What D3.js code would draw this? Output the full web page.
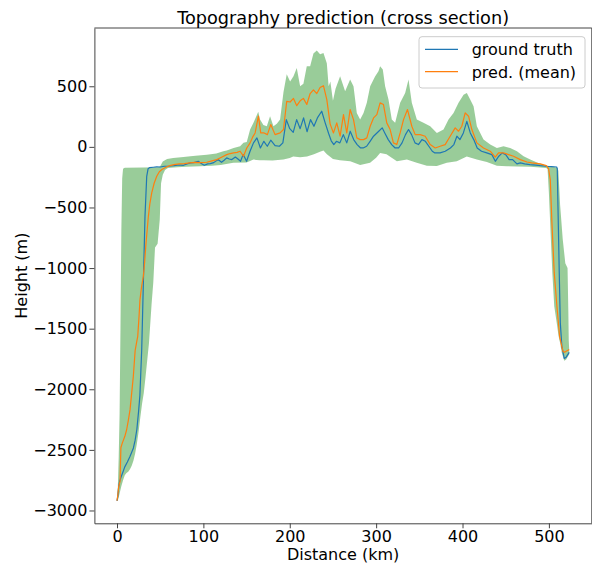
<!DOCTYPE html>
<html>
<head>
<meta charset="utf-8">
<script src="https://cdn.jsdelivr.net/npm/d3@7/dist/d3.min.js"></script>
<style>
  body { margin: 0; background: #fff; }
  svg { display: block; font-family: "DejaVu Sans", sans-serif; }
</style>
</head>
<body>
<div id="chart"></div>
<script>
// values: distance (km) and height (m)
let truthKm = [0, 1, 2, 3, 5, 7, 9, 12, 15, 19, 21, 23, 25, 26.5, 28.6, 30.5, 32.4, 34.4, 36, 37.5,
    42, 46, 50, 55, 61, 66, 70, 74, 77, 81, 85, 89, 94, 98, 101, 105, 108, 112, 117, 121,
    124, 127, 130, 133, 137, 140, 143, 146, 148, 150, 154, 158, 162, 166, 170, 174, 178, 183, 188, 192,
    196, 200, 204, 208, 212, 216, 220, 224, 228, 232, 237, 241, 245, 248, 251, 254, 258, 262, 266, 270,
    274, 278, 282, 285, 289, 293, 297, 303, 307, 310, 314, 318, 322, 326, 330, 334, 337.5, 341, 345, 349,
    353, 357, 361, 365, 368, 374, 380, 386, 390, 393.5, 397, 401, 405, 409, 413, 417, 422, 428, 434, 438,
    442, 446, 450, 454, 458, 463, 467, 472, 478, 485, 490, 497, 503, 509, 509.7, 510.5, 512, 513.2, 515, 517.8,
    520, 523.5];
let truthM = [-2920, -2880, -2800, -2760, -2718, -2680, -2640, -2600, -2555, -2484, -2420, -2330, -2180, -2050, -1672, -1122, -573, -243, -180, -172,
    -168, -165, -166, -160, -158, -155, -150, -150, -152, -140, -132, -130, -119, -140, -152, -140, -138, -130, -105, -127,
    -110, -91, -100, -105, -84, -100, -119, -64, -90, -119, -36, 33, 74, -9, 46, 5, 55, 10, 5, 33,
    225, 150, 120, 225, 150, 239, 125, 225, 170, 239, 294, 198, 110, 50, 19, 46, 33, 101, 33, 129,
    60, 19, -9, -9, 5, 46, 88, 129, 157, 115, 60, 19, -9, -9, 33, 101, 143, 101, 33, 19,
    60, 46, 5, -36, -50, -50, -36, -9, 19, 88, 60, 115, 211, 115, 60, -9, -36, -50, -64, -119,
    -77, -50, -64, -105, -105, -140, -132, -140, -146, -150, -155, -160, -163, -166, -180, -490, -1040, -1450, -1645, -1745,
    -1735, -1695];

let predKm = [0, 1, 2, 3.5, 4.5, 6.2, 9, 11.2, 13, 15.1, 17, 18.9, 21, 23, 24, 25.5, 26.6, 28.5, 30.5, 32,
    33.6, 35, 36.3, 38, 40.2, 43, 46, 49, 52, 56, 61, 66, 72, 78, 84, 90, 96, 104, 110, 115.5,
    121, 127, 131, 135, 139, 142.5, 146.4, 150.2, 154.1, 157, 159.9, 163.7, 166.4, 170.3, 174.1, 178, 183, 188.8, 192.7, 196.5,
    200.4, 204.3, 208.1, 212, 215.8, 219.7, 223.6, 227.4, 231.3, 235.1, 239, 242.9, 246.7, 250.6, 254.4, 258.3, 262.2, 266, 269.9, 273.8,
    277.6, 281.5, 285.4, 289.2, 293.1, 297, 300.8, 304.6, 308.5, 312.3, 316.2, 320, 323.9, 327.8, 331.7, 336.3, 341.3, 345.2, 351, 356.8,
    362.6, 368.4, 374.1, 379.9, 385.7, 391.5, 395.4, 399.2, 403.1, 407, 410.8, 416.6, 424.3, 432.1, 437.9, 441.7, 447.5, 453.3, 459.1, 466.8,
    474.6, 480, 490, 497, 499.6, 501.6, 503.5, 506.2, 509.3, 512.4, 516.2, 518, 521.6, 523.5];
let predM = [-2920, -2870, -2800, -2760, -2480, -2442, -2390, -2332, -2260, -2168, -2030, -1893, -1680, -1600, -1563, -1400, -1260, -1150, -1068, -950,
    -792, -680, -573, -470, -380, -300, -243, -205, -187, -170, -155, -146, -140, -138, -132, -128, -130, -127, -115, -105,
    -85, -64, -55, -50, -45, -36, -77, -9, 33, 80, 115, 253, 115, 115, 101, 184, 101, 115, 143, 376,
    370, 400, 340, 380, 400, 350, 440, 470, 440, 490, 505, 390, 190, 115, 198, 88, 266, 115, 308, 225,
    74, 60, 60, 74, 170, 239, 266, 363, 349, 198, 143, 33, 19, 115, 225, 308, 170, 101, 101, 88,
    19, -9, 5, 19, 88, 157, 129, 170, 280, 253, 143, 33, -9, -36, -85, -50, -50, -64, -77, -105,
    -125, -132, -140, -155, -180, -270, -627, -1040, -1315, -1563, -1686, -1695, -1680, -1672];

let upperKm = [0, 1, 2, 3, 4, 5, 6, 7, 9, 30, 48, 50, 53, 58, 65, 77, 85, 94, 104, 115,
    123, 127, 135, 142.5, 146.4, 150.2, 154.1, 158, 161.8, 163.5, 165.6, 169.5, 173.4, 177.2, 181.1, 185, 188.8, 192.7, 196.5, 200.4,
    204.3, 208.1, 212, 215.8, 219.7, 223.6, 227.4, 231.3, 235.1, 239, 242.9, 245, 247, 250, 253, 258.3, 264.1, 269.9, 273.8, 277.6,
    281.5, 285.4, 289.2, 293.1, 298.9, 302.7, 304.6, 307.7, 310.4, 314.3, 318.1, 322, 327.8, 333.6, 337.5, 341.3, 347.1, 354.8, 362.6, 370.3,
    378, 383.8, 389.6, 395.4, 401.2, 405, 408.9, 412.8, 416.6, 424.3, 432.1, 439.8, 447.5, 455.2, 463, 470.7, 478.4, 485, 490, 495,
    500, 505, 510, 511, 513, 516, 519, 521.6, 522.5, 523, 523.5];
let upperM = [-2920, -2800, -2550, -2200, -1500, -700, -260, -180, -172, -170, -168, -160, -120, -100, -91, -84, -77, -72, -64, -55,
    -36, -30, -9, 5, 33, 40, 143, 200, 260, 290, 225, 180, 170, 253, 170, 190, 225, 450, 600, 540,
    583, 650, 500, 520, 665, 665, 770, 795, 765, 775, 690, 500, 540, 380, 480, 583, 459, 556, 500, 280,
    225, 280, 363, 500, 583, 624, 665, 638, 500, 390, 225, 198, 363, 445, 556, 363, 225, 198, 170, 115,
    143, 225, 280, 363, 431, 445, 390, 335, 170, 60, 19, -9, 5, -9, -36, -77, -105, -125, -140, -150,
    -158, -165, -175, -200, -480, -760, -960, -1000, -1350, -1600, -1670];

let lowerKm = [0, 1, 2, 3, 5, 7, 9, 11, 13, 15, 17, 19, 21, 23, 25, 27, 29, 31, 33, 35,
    37, 40, 42, 44, 47, 49.5, 51, 53, 55.6, 59, 62, 70, 80, 96, 110, 120, 134.7, 150, 158, 165,
    170, 180, 192.7, 200, 204, 212, 220, 228, 235, 239, 243, 250, 258, 270, 281.5, 293, 300, 304.6, 312, 324,
    335.6, 347, 358.7, 370.3, 381.8, 393.4, 404.9, 416.6, 428.2, 439.8, 451.4, 463, 478.4, 490, 497, 498.5, 500, 502.3, 504, 506.2,
    509, 511.2, 513, 515, 517.8, 520, 523.5];
let lowerM = [-2920, -2915, -2890, -2860, -2800, -2750, -2710, -2690, -2680, -2660, -2630, -2590, -2530, -2450, -2350, -2230, -2120, -2030, -1900, -1760,
    -1620, -1300, -1120, -830, -800, -600, -300, -230, -190, -175, -172, -168, -165, -160, -155, -150, -132, -128, -105, -110,
    -110, -112, -105, -91, -80, -85, -80, -60, -40, -30, -60, -100, -110, -119, -150, -132, -90, -50, -60, -119,
    -105, -132, -155, -158, -132, -119, -80, -105, -125, -155, -160, -162, -165, -170, -175, -185, -380, -765, -1040, -1315,
    -1450, -1560, -1620, -1700, -1765, -1755, -1710];

let xTicks = [0, 100, 200, 300, 400, 500];
let yTicks = [-3000, -2500, -2000, -1500, -1000, -500, 0, 500];
let seriesNames = ['ground truth', 'pred. (mean)'];
let seriesColors = ['#1f77b4', '#ff7f0e'];

let config = {
    svg: {width: 592, height: 567},
    plot: {left: 94.4, top: 28, right: 591.8, bottom: 523.3}
};

let svg = d3.select('#chart')
    .append('svg')
        .attr('width', config.svg.width)
        .attr('height', config.svg.height);

svg.append('rect')
    .attr('width', config.svg.width)
    .attr('height', config.svg.height)
    .attr('fill', '#fff');

// matplotlib style 5% margins around the data
let allKm = truthKm.concat(predKm, upperKm, lowerKm);
let allM = truthM.concat(predM, upperM, lowerM);
let kmExt = d3.extent(allKm), mExt = d3.extent(allM);
let kmPad = (kmExt[1] - kmExt[0]) * 0.05, mPad = (mExt[1] - mExt[0]) * 0.05;

let x = d3.scaleLinear()
    .domain([kmExt[0] - kmPad, kmExt[1] + kmPad])
    .range([config.plot.left, config.plot.right]);
let y = d3.scaleLinear()
    .domain([mExt[0] - mPad, mExt[1] + mPad])
    .range([config.plot.bottom, config.plot.top]);

let plot = svg.append('g').attr('id', 'plot');

// uncertainty band: upper edge forward, lower edge back
let bandPts = upperKm.map((d, i) => [d, upperM[i]])
    .concat(lowerKm.map((d, i) => [d, lowerM[i]]).reverse());
let line = d3.line().x((d) => x(d[0])).y((d) => y(d[1]));

plot.append('path')
    .attr('d', line(bandPts) + 'Z')
    .attr('fill', 'green')
    .attr('fill-opacity', 0.4)
    .attr('stroke', 'none');

let series = [
    truthKm.map((d, i) => [d, truthM[i]]),
    predKm.map((d, i) => [d, predM[i]])
];

plot.selectAll('.series')
    .data(series)
    .enter()
    .append('path')
        .attr('class', 'series')
        .attr('d', (d) => line(d))
        .attr('fill', 'none')
        .attr('stroke', (d, i) => seriesColors[i])
        .attr('stroke-width', 1.2)
        .attr('stroke-linejoin', 'round');

// axes
let fmt = (d) => d3.format('d')(d).replace('-', '\u2212');

let xAxis = svg.append('g')
        .attr('class', 'axis axis--x')
        .attr('transform', translate(0, config.plot.bottom))
    .call(d3.axisBottom(x).tickValues(xTicks).tickFormat(fmt).tickSize(5).tickPadding(2).tickSizeOuter(0));

let yAxis = svg.append('g')
        .attr('class', 'axis axis--y')
        .attr('transform', translate(config.plot.left, 0))
    .call(d3.axisLeft(y).tickValues(yTicks).tickFormat(fmt).tickSize(5).tickPadding(2).tickSizeOuter(0));

svg.selectAll('.axis')
    .attr('font-family', '"DejaVu Sans", sans-serif')
    .attr('font-size', 16);
svg.selectAll('.axis text').attr('fill', '#000');
svg.selectAll('.axis line, .axis path').attr('stroke', '#444').attr('stroke-width', 1);

// top and right spines
svg.append('line')
    .attr('x1', config.plot.left).attr('x2', config.plot.right)
    .attr('y1', config.plot.top).attr('y2', config.plot.top)
    .attr('stroke', '#444');
svg.append('line')
    .attr('x1', config.plot.right).attr('x2', config.plot.right)
    .attr('y1', config.plot.top).attr('y2', config.plot.bottom)
    .attr('stroke', '#444');

// titles
let midX = (config.plot.left + config.plot.right) / 2;
svg.append('text')
    .attr('transform', translate(midX, 24))
    .style('text-anchor', 'middle')
    .style('font-size', '17.7px')
    .text('Topography prediction (cross section)');

svg.append('text')
    .attr('transform', translate(midX, 559.5))
    .style('text-anchor', 'middle')
    .style('font-size', '16px')
    .text('Distance (km)');

svg.append('text')
    .attr('transform', translate(27, (config.plot.top + config.plot.bottom) / 2) + ' rotate(-90)')
    .style('text-anchor', 'middle')
    .style('font-size', '16px')
    .text('Height (m)');

// legend
let legend = svg.append('g').attr('transform', translate(419, 36.7));
legend.append('rect')
    .attr('width', 166)
    .attr('height', 51.3)
    .attr('rx', 3)
    .attr('fill', '#fff')
    .attr('fill-opacity', 0.8)
    .attr('stroke', '#ccc');

let items = legend.selectAll('.item')
    .data(seriesNames)
    .enter()
    .append('g')
        .attr('class', 'item')
        .attr('transform', (d, i) => translate(0, 12.6 + i * 22.4));
items.append('line')
    .attr('x1', 6).attr('x2', 39)
    .attr('stroke', (d, i) => seriesColors[i])
    .attr('stroke-width', 1.2);
items.append('text')
    .attr('x', 52.7)
    .attr('y', 5.9)
    .style('font-size', '16px')
    .text((d) => d);

// helper method to make translating easier
function translate(x, y) {
    return 'translate(' + x + ',' + y + ')';
}
</script>
</body>
</html>
